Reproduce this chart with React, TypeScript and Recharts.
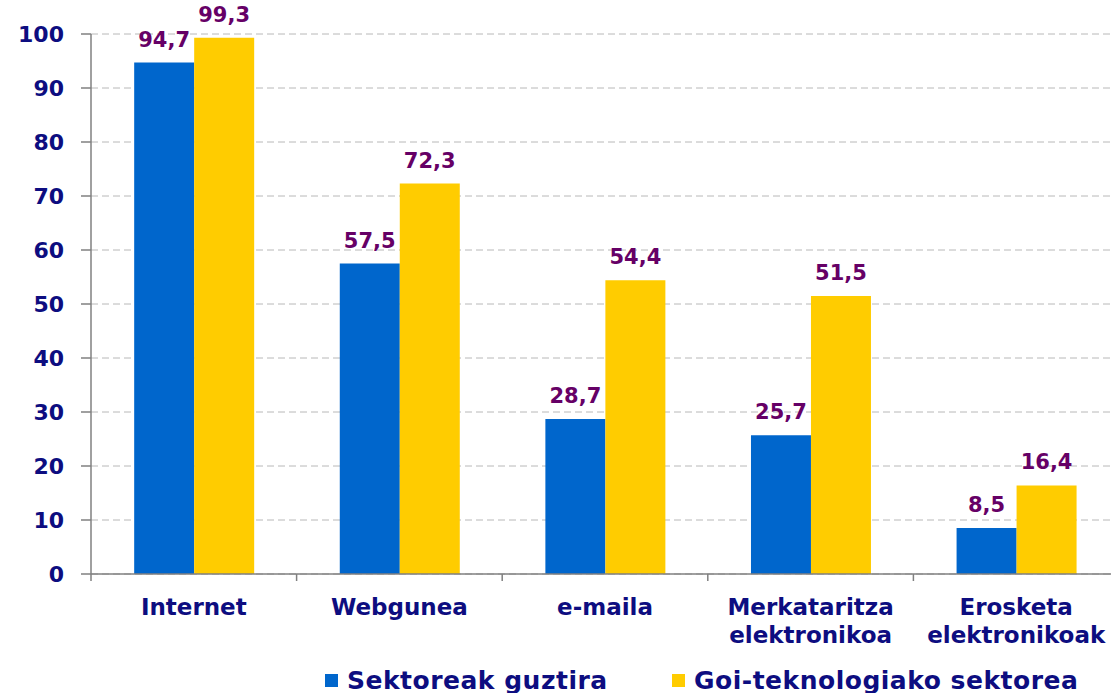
import { BarChart, Bar, XAxis, YAxis, CartesianGrid, Legend, LabelList } from "recharts";

const categories = ["Internet", "Webgunea", "e-maila", "Merkataritza\nelektronikoa", "Erosketa\nelektronikoak"];
const sektoreakGuztira = [94.7, 57.5, 28.7, 25.7, 8.5];
const goiTeknologia = [99.3, 72.3, 54.4, 51.5, 16.4];
const yTicks = [0, 10, 20, 30, 40, 50, 60, 70, 80, 90, 100];

const data = categories.map((c, i) => ({
  name: c,
  all: sektoreakGuztira[i],
  high: goiTeknologia[i],
}));

const FONT = "'DejaVu Sans', Verdana, sans-serif";
const NAVY = "#0d0d80";
const CHART_W = 1125;
const CHART_H = 720;
const MARGIN = { top: 34, right: 6, left: 0, bottom: 20 };
const Y_W = 91;
const BAND = (CHART_W - MARGIN.left - MARGIN.right - Y_W) / categories.length;

const CatTick = (props: any) => {
  const { x, y, payload } = props;
  const lines = String(payload.value).split("\n");
  return (
    <g>
      <line x1={x - BAND / 2} x2={x - BAND / 2} y1={y} y2={y + 7} stroke="#808080" strokeWidth={1.5} />
      <text x={x} y={y + 41} textAnchor="middle" fill={NAVY} fontFamily={FONT} fontWeight="bold" fontSize={23}>
        {lines.map((l: string, i: number) => (
          <tspan key={i} x={x} dy={i === 0 ? 0 : 28}>{l}</tspan>
        ))}
      </text>
    </g>
  );
};

// legend item left edges, by series key
const legendX: Record<string, number> = { all: 325, high: 672 };

const LegendBox = (props: any) => {
  const { payload } = props;
  return (
    <div style={{ position: "relative", height: 46, width: CHART_W }}>
      {(payload || []).map((p: any, i: number) => (
        <div
          key={i}
          style={{
            position: "absolute",
            left: legendX[p.dataKey],
            top: 13,
            display: "flex",
            alignItems: "center",
            height: 26,
            fontFamily: FONT,
            fontWeight: "bold",
            fontSize: 25,
            letterSpacing: 0.5,
            color: NAVY,
            whiteSpace: "nowrap",
          }}
        >
          <span style={{ display: "inline-block", width: 13, height: 13, background: p.color, marginRight: 9 }} />
          {p.value}
        </div>
      ))}
    </div>
  );
};

const fmt = (v: any) => String(v).replace(".", ",");

export default function App() {
  return (
    <div style={{ position: "fixed", left: 0, top: 0, width: 1111, height: 693, overflow: "hidden", background: "#fff" }}>
      <BarChart width={CHART_W} height={CHART_H} data={data} margin={MARGIN} barCategoryGap="21%" barGap={0}>
        <CartesianGrid vertical={false} stroke="#b8b8b8" strokeDasharray="7 4" />
        <XAxis
          dataKey="name"
          height={80}
          interval={0}
          tick={<CatTick />}
          tickLine={false}
          tickSize={0}
          tickMargin={0}
          axisLine={{ stroke: "#808080", strokeWidth: 1.5 }}
        />
        <YAxis
          width={Y_W}
          domain={[0, 100]}
          ticks={yTicks}
          interval={0}
          tickSize={10}
          tickMargin={17}
          tickLine={{ stroke: "#808080", strokeWidth: 1.5 }}
          axisLine={{ stroke: "#808080", strokeWidth: 1.5 }}
          tick={{ fill: NAVY, fontFamily: FONT, fontWeight: "bold", fontSize: 22 }}
        />
        <Legend verticalAlign="bottom" content={<LegendBox />} wrapperStyle={{ left: 0, width: CHART_W }} />
        <Bar dataKey="all" name="Sektoreak guztira" fill="#0066cc" isAnimationActive={false}>
          <LabelList
            dataKey="all"
            position="top"
            offset={16}
            formatter={fmt}
            fill="#660066"
            fontFamily={FONT}
            fontWeight="bold"
            fontSize={21}
          />
        </Bar>
        <Bar dataKey="high" name="Goi-teknologiako sektorea" fill="#ffcc00" isAnimationActive={false}>
          <LabelList
            dataKey="high"
            position="top"
            offset={16}
            formatter={fmt}
            fill="#660066"
            fontFamily={FONT}
            fontWeight="bold"
            fontSize={21}
          />
        </Bar>
      </BarChart>
    </div>
  );
}
